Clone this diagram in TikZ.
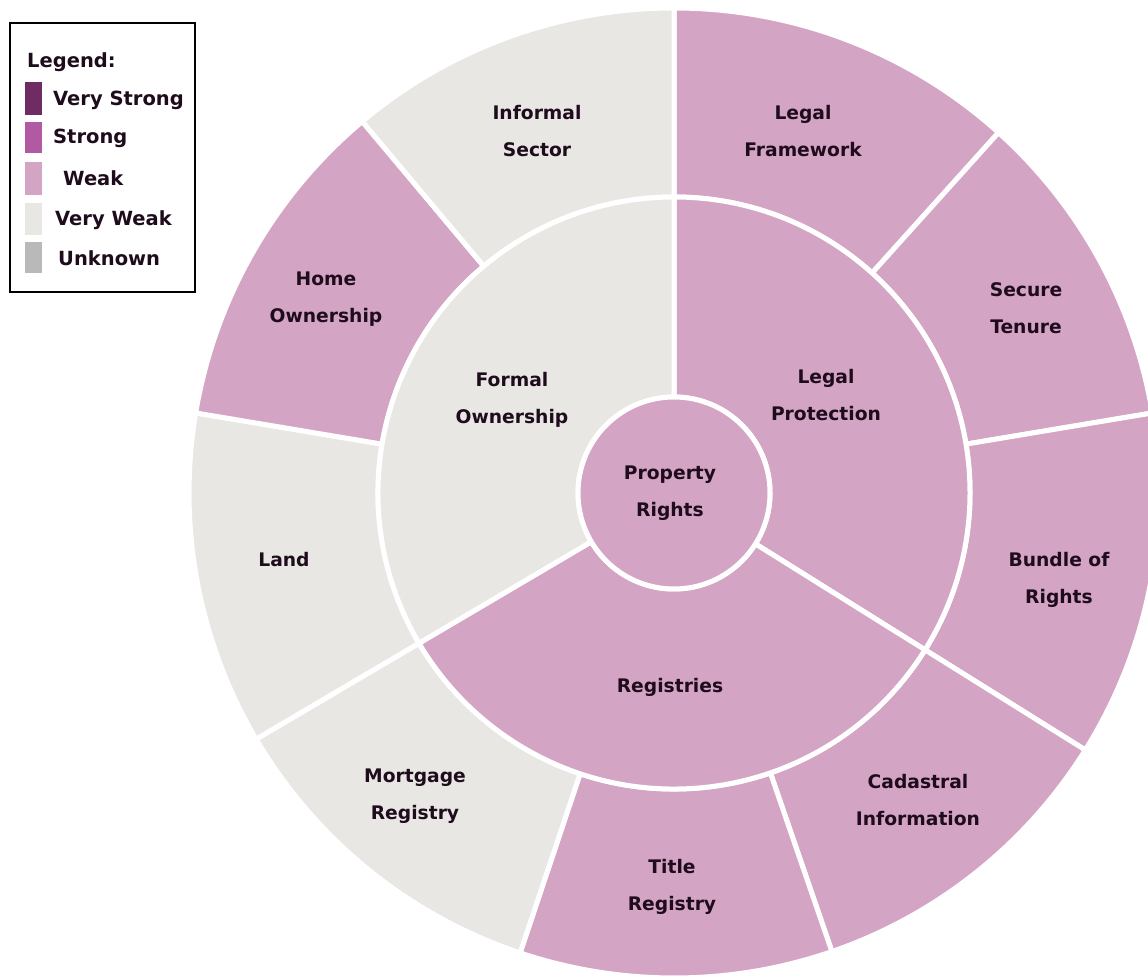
\documentclass[tikz,border=0pt]{standalone}
\usepackage{fontspec}
\setmainfont{DejaVu Sans}
\definecolor{weakc}{RGB}{212,164,197}
\definecolor{vweakc}{RGB}{233,231,228}
\definecolor{vstrongc}{RGB}{110,44,99}
\definecolor{strongc}{RGB}{177,90,163}
\definecolor{unknownc}{RGB}{185,185,185}
\definecolor{txtc}{RGB}{30,12,28}
\newcommand{\annsec}[5]{\filldraw[seg,fill=#1] (#2:#4) arc[start angle=#2,end angle=#3,radius=#4] -- (#3:#5) arc[start angle=#3,end angle=#2,radius=#5] -- cycle;}
\tikzset{
  seg/.style={draw=white,line width=5pt,line join=round},
  lbl/.style={text=txtc,align=center,inner sep=0pt,font=\fontsize{18.7}{37}\selectfont\bfseries},
  legtxt/.style={text=txtc,anchor=west,inner sep=0pt,font=\fontsize{19.5}{24}\selectfont\bfseries},
  swatch/.style={draw=none},
  legbox/.style={draw=black,line width=1.5pt,fill=white}
}
\begin{document}
\begin{tikzpicture}[x=1pt,y=1pt]
\useasboundingbox (0,0) rectangle (1148,977);
\clip (0,0) rectangle (1148,977);
\fill[white] (0,0) rectangle (1148,977);
\begin{scope}[shift={(674,484)}]
  % outer ring
  \annsec{weakc}{48}{90}{296}{485}
  \annsec{weakc}{9.5}{48}{296}{485}
  \annsec{weakc}{-32}{9.5}{296}{485}
  \annsec{weakc}{-71}{-32}{296}{485}
  \annsec{weakc}{-108.5}{-71}{296}{485}
  \annsec{vweakc}{-149.5}{-108.5}{296}{485}
  \annsec{vweakc}{170.5}{210.5}{296}{485}
  \annsec{weakc}{130}{170.5}{296}{485}
  \annsec{vweakc}{90}{130}{296}{485}
  % middle ring
  \annsec{weakc}{-32}{90}{96}{296}
  \annsec{weakc}{210.5}{328}{96}{296}
  \annsec{vweakc}{90}{210.5}{96}{296}
  % centre
  \filldraw[seg,fill=weakc] (0,0) circle[radius=96];
\end{scope}
% labels
\node[lbl] (pr) at (670,484) {Property\\Rights};
\node[lbl] (fo) at (512,577) {Formal\\Ownership};
\node[lbl] (lp) at (826,582) {Legal\\Protection};
\node[lbl] (rg) at (670,290) {Registries};
\node[lbl] (is) at (537,846) {Informal\\Sector};
\node[lbl] (lf) at (803,846) {Legal\\Framework};
\node[lbl] (st) at (1026,669) {Secure\\Tenure};
\node[lbl] (br) at (1059,397) {Bundle of\\Rights};
\node[lbl] (ci) at (918,177) {Cadastral\\Information};
\node[lbl] (tr) at (672,90) {Title\\Registry};
\node[lbl] (mr) at (415,181) {Mortgage\\Registry};
\node[lbl] (ld) at (284,417) {Land};
\node[lbl] (ho) at (326,678) {Home\\Ownership};
% legend
\draw[legbox] (10,954) rectangle (195,685);
\node[legtxt] (lg) at (27,915) {Legend:};
\fill[vstrongc] (25,895) rectangle (42,862);
\fill[strongc] (25,855) rectangle (42,824);
\fill[weakc] (25,815) rectangle (42,782);
\fill[vweakc] (25,774) rectangle (42,742);
\fill[unknownc] (25,735) rectangle (42,704);
\node[legtxt] (l1) at (53,877) {Very Strong};
\node[legtxt] (l2) at (53,839) {Strong};
\node[legtxt] (l3) at (63,799) {Weak};
\node[legtxt] (l4) at (55,757) {Very Weak};
\node[legtxt] (l5) at (58,719) {Unknown};
\end{tikzpicture}
\end{document}
